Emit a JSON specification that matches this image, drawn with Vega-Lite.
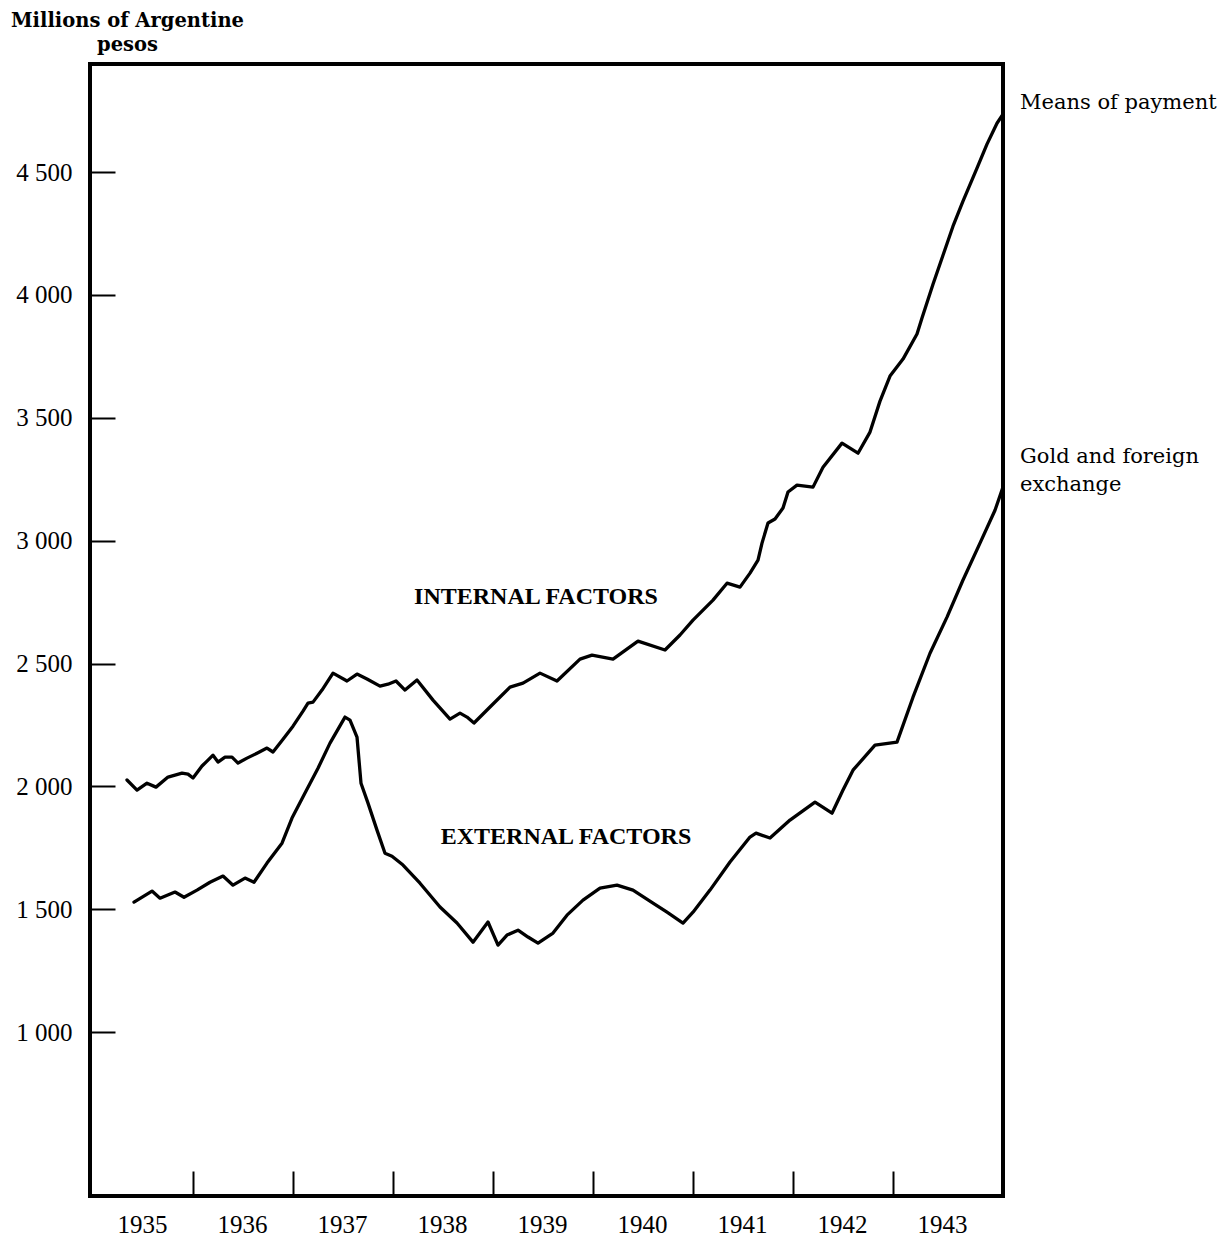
{
  "$schema": "https://vega.github.io/schema/vega-lite/v6.json",
  "autosize": {"type": "none"},
  "width": 913,
  "height": 1132,
  "padding": {"left": 90, "top": 64, "right": 224, "bottom": 40},
  "background": "white",
  "config": {"view": {"stroke": "black", "strokeWidth": 4}, "font": "Liberation Serif"},
  "datasets": {
    "series": [
      {"series": "Means of payment", "t": 1935.34, "v": 2026},
      {"series": "Means of payment", "t": 1935.44, "v": 1985},
      {"series": "Means of payment", "t": 1935.54, "v": 2013},
      {"series": "Means of payment", "t": 1935.63, "v": 1997},
      {"series": "Means of payment", "t": 1935.75, "v": 2038},
      {"series": "Means of payment", "t": 1935.89, "v": 2054},
      {"series": "Means of payment", "t": 1935.95, "v": 2050},
      {"series": "Means of payment", "t": 1936.00, "v": 2034},
      {"series": "Means of payment", "t": 1936.09, "v": 2083},
      {"series": "Means of payment", "t": 1936.14, "v": 2103},
      {"series": "Means of payment", "t": 1936.20, "v": 2127},
      {"series": "Means of payment", "t": 1936.25, "v": 2099},
      {"series": "Means of payment", "t": 1936.32, "v": 2119},
      {"series": "Means of payment", "t": 1936.39, "v": 2119},
      {"series": "Means of payment", "t": 1936.45, "v": 2095},
      {"series": "Means of payment", "t": 1936.54, "v": 2115},
      {"series": "Means of payment", "t": 1936.64, "v": 2135},
      {"series": "Means of payment", "t": 1936.74, "v": 2156},
      {"series": "Means of payment", "t": 1936.80, "v": 2140},
      {"series": "Means of payment", "t": 1936.90, "v": 2192},
      {"series": "Means of payment", "t": 1937.00, "v": 2245},
      {"series": "Means of payment", "t": 1937.10, "v": 2306},
      {"series": "Means of payment", "t": 1937.15, "v": 2339},
      {"series": "Means of payment", "t": 1937.20, "v": 2343},
      {"series": "Means of payment", "t": 1937.29, "v": 2392},
      {"series": "Means of payment", "t": 1937.40, "v": 2461},
      {"series": "Means of payment", "t": 1937.54, "v": 2429},
      {"series": "Means of payment", "t": 1937.64, "v": 2457},
      {"series": "Means of payment", "t": 1937.74, "v": 2437},
      {"series": "Means of payment", "t": 1937.87, "v": 2408},
      {"series": "Means of payment", "t": 1937.95, "v": 2416},
      {"series": "Means of payment", "t": 1938.03, "v": 2429},
      {"series": "Means of payment", "t": 1938.12, "v": 2392},
      {"series": "Means of payment", "t": 1938.24, "v": 2433},
      {"series": "Means of payment", "t": 1938.40, "v": 2351},
      {"series": "Means of payment", "t": 1938.57, "v": 2274},
      {"series": "Means of payment", "t": 1938.67, "v": 2298},
      {"series": "Means of payment", "t": 1938.74, "v": 2282},
      {"series": "Means of payment", "t": 1938.81, "v": 2258},
      {"series": "Means of payment", "t": 1938.97, "v": 2323},
      {"series": "Means of payment", "t": 1939.17, "v": 2404},
      {"series": "Means of payment", "t": 1939.30, "v": 2420},
      {"series": "Means of payment", "t": 1939.47, "v": 2461},
      {"series": "Means of payment", "t": 1939.64, "v": 2429},
      {"series": "Means of payment", "t": 1939.87, "v": 2518},
      {"series": "Means of payment", "t": 1939.99, "v": 2534},
      {"series": "Means of payment", "t": 1940.20, "v": 2518},
      {"series": "Means of payment", "t": 1940.45, "v": 2591},
      {"series": "Means of payment", "t": 1940.72, "v": 2555},
      {"series": "Means of payment", "t": 1940.87, "v": 2616},
      {"series": "Means of payment", "t": 1941.00, "v": 2677},
      {"series": "Means of payment", "t": 1941.20, "v": 2758},
      {"series": "Means of payment", "t": 1941.34, "v": 2827},
      {"series": "Means of payment", "t": 1941.47, "v": 2811},
      {"series": "Means of payment", "t": 1941.57, "v": 2868},
      {"series": "Means of payment", "t": 1941.65, "v": 2921},
      {"series": "Means of payment", "t": 1941.69, "v": 2990},
      {"series": "Means of payment", "t": 1941.75, "v": 3072},
      {"series": "Means of payment", "t": 1941.82, "v": 3088},
      {"series": "Means of payment", "t": 1941.90, "v": 3133},
      {"series": "Means of payment", "t": 1941.95, "v": 3198},
      {"series": "Means of payment", "t": 1942.04, "v": 3226},
      {"series": "Means of payment", "t": 1942.20, "v": 3218},
      {"series": "Means of payment", "t": 1942.30, "v": 3299},
      {"series": "Means of payment", "t": 1942.49, "v": 3397},
      {"series": "Means of payment", "t": 1942.65, "v": 3356},
      {"series": "Means of payment", "t": 1942.77, "v": 3442},
      {"series": "Means of payment", "t": 1942.87, "v": 3568},
      {"series": "Means of payment", "t": 1942.97, "v": 3670},
      {"series": "Means of payment", "t": 1943.10, "v": 3739},
      {"series": "Means of payment", "t": 1943.24, "v": 3841},
      {"series": "Means of payment", "t": 1943.29, "v": 3906},
      {"series": "Means of payment", "t": 1943.40, "v": 4044},
      {"series": "Means of payment", "t": 1943.50, "v": 4162},
      {"series": "Means of payment", "t": 1943.60, "v": 4280},
      {"series": "Means of payment", "t": 1943.70, "v": 4382},
      {"series": "Means of payment", "t": 1943.84, "v": 4516},
      {"series": "Means of payment", "t": 1943.94, "v": 4614},
      {"series": "Means of payment", "t": 1944.04, "v": 4699},
      {"series": "Means of payment", "t": 1944.10, "v": 4736},
      {"series": "Gold and foreign exchange", "t": 1935.41, "v": 1529},
      {"series": "Gold and foreign exchange", "t": 1935.59, "v": 1574},
      {"series": "Gold and foreign exchange", "t": 1935.67, "v": 1545},
      {"series": "Gold and foreign exchange", "t": 1935.82, "v": 1570},
      {"series": "Gold and foreign exchange", "t": 1935.91, "v": 1549},
      {"series": "Gold and foreign exchange", "t": 1936.04, "v": 1578},
      {"series": "Gold and foreign exchange", "t": 1936.17, "v": 1610},
      {"series": "Gold and foreign exchange", "t": 1936.30, "v": 1635},
      {"series": "Gold and foreign exchange", "t": 1936.40, "v": 1598},
      {"series": "Gold and foreign exchange", "t": 1936.52, "v": 1627},
      {"series": "Gold and foreign exchange", "t": 1936.61, "v": 1610},
      {"series": "Gold and foreign exchange", "t": 1936.74, "v": 1688},
      {"series": "Gold and foreign exchange", "t": 1936.89, "v": 1769},
      {"series": "Gold and foreign exchange", "t": 1936.99, "v": 1871},
      {"series": "Gold and foreign exchange", "t": 1937.12, "v": 1973},
      {"series": "Gold and foreign exchange", "t": 1937.25, "v": 2074},
      {"series": "Gold and foreign exchange", "t": 1937.37, "v": 2176},
      {"series": "Gold and foreign exchange", "t": 1937.52, "v": 2282},
      {"series": "Gold and foreign exchange", "t": 1937.57, "v": 2270},
      {"series": "Gold and foreign exchange", "t": 1937.64, "v": 2201},
      {"series": "Gold and foreign exchange", "t": 1937.68, "v": 2013},
      {"series": "Gold and foreign exchange", "t": 1937.75, "v": 1932},
      {"series": "Gold and foreign exchange", "t": 1937.84, "v": 1822},
      {"series": "Gold and foreign exchange", "t": 1937.92, "v": 1728},
      {"series": "Gold and foreign exchange", "t": 1937.99, "v": 1716},
      {"series": "Gold and foreign exchange", "t": 1938.10, "v": 1680},
      {"series": "Gold and foreign exchange", "t": 1938.27, "v": 1606},
      {"series": "Gold and foreign exchange", "t": 1938.47, "v": 1509},
      {"series": "Gold and foreign exchange", "t": 1938.64, "v": 1444},
      {"series": "Gold and foreign exchange", "t": 1938.80, "v": 1366},
      {"series": "Gold and foreign exchange", "t": 1938.95, "v": 1448},
      {"series": "Gold and foreign exchange", "t": 1939.05, "v": 1354},
      {"series": "Gold and foreign exchange", "t": 1939.14, "v": 1395},
      {"series": "Gold and foreign exchange", "t": 1939.25, "v": 1415},
      {"series": "Gold and foreign exchange", "t": 1939.35, "v": 1387},
      {"series": "Gold and foreign exchange", "t": 1939.45, "v": 1362},
      {"series": "Gold and foreign exchange", "t": 1939.60, "v": 1403},
      {"series": "Gold and foreign exchange", "t": 1939.74, "v": 1476},
      {"series": "Gold and foreign exchange", "t": 1939.90, "v": 1537},
      {"series": "Gold and foreign exchange", "t": 1940.07, "v": 1586},
      {"series": "Gold and foreign exchange", "t": 1940.24, "v": 1598},
      {"series": "Gold and foreign exchange", "t": 1940.40, "v": 1578},
      {"series": "Gold and foreign exchange", "t": 1940.60, "v": 1525},
      {"series": "Gold and foreign exchange", "t": 1940.74, "v": 1488},
      {"series": "Gold and foreign exchange", "t": 1940.90, "v": 1444},
      {"series": "Gold and foreign exchange", "t": 1941.00, "v": 1488},
      {"series": "Gold and foreign exchange", "t": 1941.17, "v": 1578},
      {"series": "Gold and foreign exchange", "t": 1941.37, "v": 1692},
      {"series": "Gold and foreign exchange", "t": 1941.57, "v": 1794},
      {"series": "Gold and foreign exchange", "t": 1941.63, "v": 1810},
      {"series": "Gold and foreign exchange", "t": 1941.77, "v": 1790},
      {"series": "Gold and foreign exchange", "t": 1941.97, "v": 1863},
      {"series": "Gold and foreign exchange", "t": 1942.22, "v": 1936},
      {"series": "Gold and foreign exchange", "t": 1942.39, "v": 1891},
      {"series": "Gold and foreign exchange", "t": 1942.50, "v": 1985},
      {"series": "Gold and foreign exchange", "t": 1942.60, "v": 2066},
      {"series": "Gold and foreign exchange", "t": 1942.82, "v": 2168},
      {"series": "Gold and foreign exchange", "t": 1943.04, "v": 2180},
      {"series": "Gold and foreign exchange", "t": 1943.20, "v": 2363},
      {"series": "Gold and foreign exchange", "t": 1943.37, "v": 2542},
      {"series": "Gold and foreign exchange", "t": 1943.54, "v": 2689},
      {"series": "Gold and foreign exchange", "t": 1943.70, "v": 2840},
      {"series": "Gold and foreign exchange", "t": 1943.87, "v": 2990},
      {"series": "Gold and foreign exchange", "t": 1944.02, "v": 3124},
      {"series": "Gold and foreign exchange", "t": 1944.10, "v": 3218}
    ],
    "labels": [
      {"kind": "factor", "label": "INTERNAL FACTORS", "t": 1939.43, "v": 2770},
      {"kind": "factor", "label": "EXTERNAL FACTORS", "t": 1939.73, "v": 1794},
      {"kind": "end", "label": "Means of payment", "t": 1944.1, "v": 4756},
      {"kind": "end", "label": "Gold and foreign", "t": 1944.1, "v": 3316},
      {"kind": "end", "label": "exchange", "t": 1944.1, "v": 3202}
    ]
  },
  "encoding": {
    "x": {
      "field": "t",
      "type": "quantitative",
      "scale": {"domain": [1934.97, 1944.1], "nice": false, "zero": false},
      "axis": {
        "values": [1935, 1936, 1937, 1938, 1939, 1940, 1941, 1942, 1943],
        "format": "d",
        "domain": false,
        "grid": false,
        "tickSize": -25,
        "tickWidth": 2,
        "tickColor": {"condition": {"test": "datum.value == 1935", "value": "transparent"}, "value": "black"},
        "labelOffset": 49,
        "labelFont": "Liberation Serif",
        "labelFontSize": 25,
        "labelColor": "black",
        "labelPadding": 41,
        "labelOverlap": false,
        "labelFlush": false,
        "title": null
      }
    },
    "y": {
      "field": "v",
      "type": "quantitative",
      "scale": {"domain": [333, 4940], "nice": false, "zero": false},
      "axis": {
        "values": [1000, 1500, 2000, 2500, 3000, 3500, 4000, 4500],
        "labelExpr": "replace(format(datum.value, ','), ',', ' ')",
        "domain": false,
        "grid": false,
        "tickSize": -25,
        "tickWidth": 2,
        "tickColor": "black",
        "labelFont": "Liberation Serif",
        "labelFontSize": 25,
        "labelColor": "black",
        "labelPadding": 43,
        "labelOverlap": false,
        "labelFlush": false,
        "title": ["Millions of Argentine", "pesos"],
        "titleAngle": 0,
        "titleAlign": "center",
        "titleBaseline": "alphabetic",
        "titleX": 37,
        "titleY": -38,
        "titleFont": "DejaVu Serif",
        "titleFontSize": 19.5,
        "titleFontWeight": "bold",
        "titleColor": "black",
        "titleLineHeight": 24
      }
    }
  },
  "layer": [
    {
      "data": {"name": "series"},
      "mark": {"type": "line", "color": "black", "strokeWidth": 3.3, "strokeJoin": "round", "strokeCap": "round"},
      "encoding": {"detail": {"field": "series"}}
    },
    {
      "data": {"name": "labels"},
      "transform": [{"filter": "datum.kind == 'factor'"}],
      "mark": {"type": "text", "font": "Liberation Serif", "fontWeight": "bold", "fontSize": 24, "align": "center", "baseline": "middle", "color": "black"},
      "encoding": {"text": {"field": "label"}}
    },
    {
      "data": {"name": "labels"},
      "transform": [{"filter": "datum.kind == 'end'"}],
      "mark": {"type": "text", "font": "DejaVu Serif", "fontSize": 21, "align": "left", "baseline": "alphabetic", "dx": 17, "color": "black"},
      "encoding": {"text": {"field": "label"}}
    }
  ]
}
